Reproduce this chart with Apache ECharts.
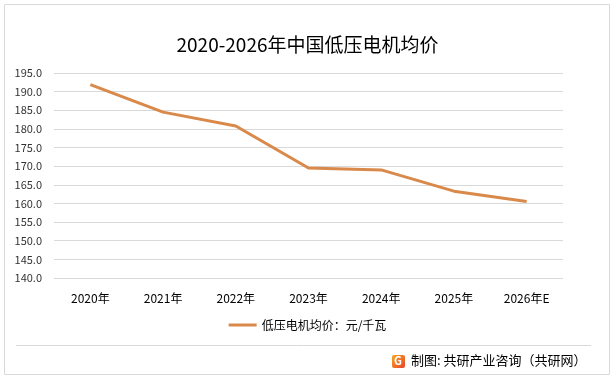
<!DOCTYPE html>
<html><head><meta charset="utf-8">
<script src="https://cdn.jsdelivr.net/npm/echarts@6/dist/echarts.min.js"></script>
<style>html,body{margin:0;padding:0;background:#fff}#c{width:615px;height:380px}</style>
</head><body><div id="c"></div>
<script>
var categories = ['2020年','2021年','2022年','2023年','2024年','2025年','2026年E'];
var values = [191.9, 184.5, 180.8, 169.5, 169.0, 163.3, 160.5];
var seriesName = '低压电机均价：元/千瓦';
var titleText = '2020-2026年中国低压电机均价';
var sourceText = '制图: 共研产业咨询（共研网）';
var yMin = 140, yMax = 195, yStep = 5;

var font = '"Microsoft YaHei","Noto Sans CJK SC",sans-serif';
var chart = echarts.init(document.getElementById('c'));
chart.setOption({
  animation: false,
  backgroundColor: '#fff',
  title: {
    text: titleText, left: 'center', top: 30,
    textStyle: {fontFamily: font, fontSize: 19, fontWeight: 'normal', color: '#000'}
  },
  grid: {left: 54, right: 52, top: 73, bottom: 102, containLabel: false},
  legend: {
    bottom: 44, left: 'center',
    itemWidth: 28, itemHeight: 3, itemGap: 6,
    icon: 'rect',
    textStyle: {fontFamily: font, fontSize: 12, color: '#000'},
    data: [seriesName]
  },
  xAxis: {
    type: 'category', data: categories, boundaryGap: true,
    axisLine: {show: false}, axisTick: {show: false},
    axisLabel: {fontFamily: font, fontSize: 12, color: '#000', margin: 14}
  },
  yAxis: {
    type: 'value', min: yMin, max: yMax, interval: yStep,
    axisLine: {show: false}, axisTick: {show: false},
    axisLabel: {fontFamily: font, fontSize: 11, color: '#333', margin: 12,
      formatter: function(v){return v.toFixed(1);}},
    splitLine: {lineStyle: {color: '#d9d9d9', width: 1}}
  },
  series: [{
    name: seriesName, type: 'line', data: values,
    symbol: 'none', smooth: false,
    lineStyle: {color: '#D9894A', width: 3},
    itemStyle: {color: '#D9894A'}
  }],
  graphic: [
    {type: 'rect', shape: {x: 4.5, y: 4.5, width: 605, height: 370},
      style: {fill: 'none', stroke: '#d9d9d9', lineWidth: 1}, silent: true},
    {type: 'line', shape: {x1: 16, y1: 345.5, x2: 591, y2: 345.5},
      style: {stroke: '#d9d9d9', lineWidth: 1}},
    {type: 'rect', shape: {x: 392, y: 355, width: 13, height: 13, r: 2},
      style: {fill: {type: 'linear', x: 0, y: 0, x2: 1, y2: 1,
        colorStops: [{offset: 0, color: '#F5A623'}, {offset: 1, color: '#E8452C'}]}}},
    {type: 'text', left: 394, top: 355,
      style: {text: 'G', fill: '#fff', font: 'bold 11px ' + font}},
    {type: 'text', left: 411, top: 354,
      style: {text: sourceText, fill: '#000', font: '13px ' + font}}
  ]
});
</script></body></html>
